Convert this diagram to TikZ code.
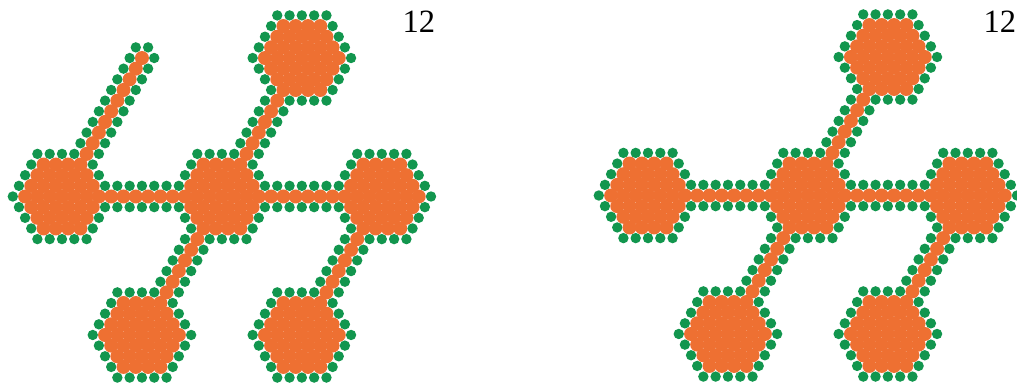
\documentclass[tikz,border=0pt]{standalone}
\usepackage{fontspec}
\setmainfont{Liberation Serif}
\definecolor{dotorange}{RGB}{238,112,50}
\definecolor{dotgreen}{RGB}{18,150,78}
\newcount\hxq \newcount\hxr \newcount\hxa \newcount\hxb \newcount\hxs
\newif\iforange
\newif\ifgreen
\newif\ifarm
% is the current point (\hxq,\hxr) within hex distance 3 of centre (#1,#2)?
\def\hexin#1#2{%
  \hxa=\numexpr\hxq-(#1)\relax \hxb=\numexpr\hxr-(#2)\relax
  \hxs=\numexpr\hxa+\hxb\relax
  \ifnum\hxa<0 \hxa=-\hxa\fi
  \ifnum\hxb<0 \hxb=-\hxb\fi
  \ifnum\hxs<0 \hxs=-\hxs\fi
  \ifnum\numexpr\hxa+\hxb+\hxs\relax<7 \orangetrue\fi}
\def\testO#1#2{%
  \orangefalse
  \hxq=\numexpr#1\relax \hxr=\numexpr#2\relax
  \hexin{0}{0}\hexin{13}{0}\hexin{26}{0}%
  \hexin{13}{13}\hexin{13}{-13}\hexin{26}{-13}%
  \ifnum\hxr=0 \ifnum\hxq>-1 \ifnum\hxq<27 \orangetrue\fi\fi\fi
  \ifnum\hxq=13 \ifnum\hxr>-14 \ifnum\hxr<14 \orangetrue\fi\fi\fi
  \ifnum\hxq=26 \ifnum\hxr>-14 \ifnum\hxr<1 \orangetrue\fi\fi\fi
  \ifarm \ifnum\hxq=0 \ifnum\hxr>-1 \ifnum\hxr<14 \orangetrue\fi\fi\fi\fi}
\def\testG#1#2{%
  \greenfalse
  \testO{#1+1}{#2}\iforange\greentrue\fi
  \testO{#1-1}{#2}\iforange\greentrue\fi
  \testO{#1}{#2+1}\iforange\greentrue\fi
  \testO{#1}{#2-1}\iforange\greentrue\fi
  \testO{#1+1}{#2-1}\iforange\greentrue\fi
  \testO{#1-1}{#2+1}\iforange\greentrue\fi}
\tikzset{
  odot/.style={fill=dotorange},
  gdot/.style={fill=dotgreen},
  lbl/.style={font=\fontsize{32.5}{36}\selectfont, anchor=base west, inner sep=0pt, text=black}
}
\begin{document}
\begin{tikzpicture}[x=1pt,y=-1pt]
\useasboundingbox[fill=white] (0,0) rectangle (1017,387);
\foreach \Xz/\Yz/\armflag in {62/196.5/1, 648/195.5/0}{
  \ifnum\armflag=1 \armtrue\else\armfalse\fi
  \foreach \q in {-5,...,31}{
    \foreach \r in {-18,...,18}{
      \testO{\q}{\r}%
      \iforange
        \path[odot] ({\Xz+12.3*\q+6.15*\r},{\Yz-10.652*\r}) circle[radius=7pt];
      \else
        \testG{\q}{\r}%
        \ifgreen
          \path[gdot] ({\Xz+12.3*\q+6.15*\r},{\Yz-10.652*\r}) circle[radius=5.2pt];
        \fi
      \fi
    }
  }
}
\node[lbl] (lblA) at (402.5,32.5) {12};
\node[lbl] (lblB) at (983.5,33) {12};
\end{tikzpicture}
\end{document}
